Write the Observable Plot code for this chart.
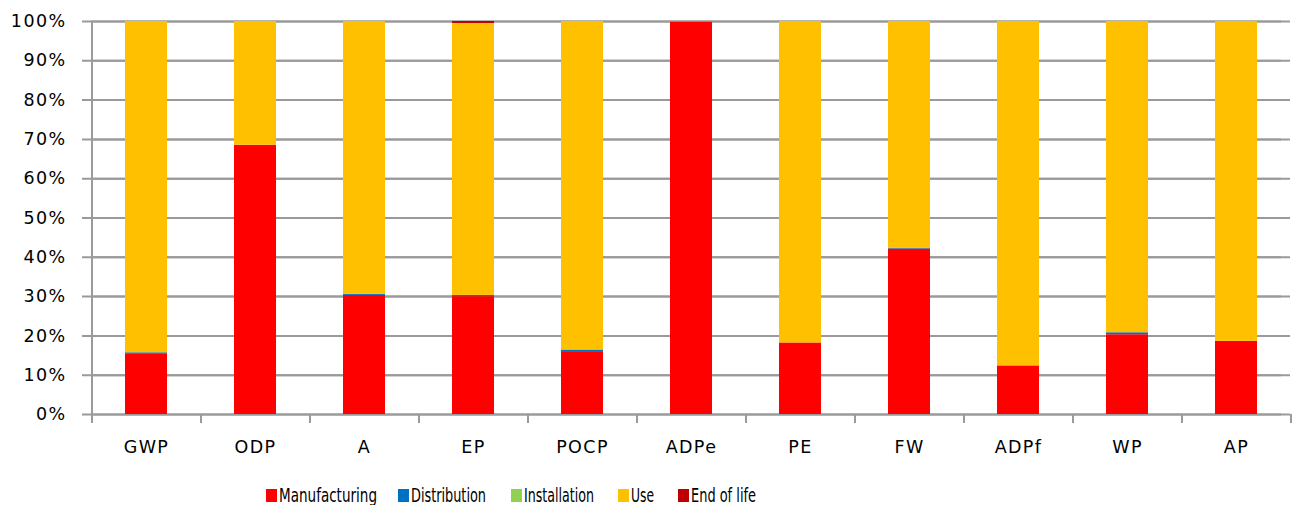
<!DOCTYPE html>
<html>
<head>
<meta charset="utf-8">
<script src="https://cdn.jsdelivr.net/npm/d3@7"></script>
<script src="https://cdn.jsdelivr.net/npm/@observablehq/plot@0.6"></script>
<style>
  html, body { margin: 0; padding: 0; background: #fff; }
  #wrap { position: relative; width: 1296px; height: 505px; overflow: hidden; }
  #chart svg text { letter-spacing: 1.4px; }
  .leg { position: absolute; top: 484px; font-family: "DejaVu Sans", sans-serif; font-stretch: condensed; font-size: 20px; line-height: 22px; color: #000; white-space: nowrap; }
  .sw { position: absolute; top: 5px; left: 0; width: 11px; height: 13px; }
  .tx { position: absolute; left: 13px; top: 0; display: inline-block; transform-origin: 0 50%; }
</style>
</head>
<body>
<div id="wrap">
  <div id="chart"></div>
  <div id="legend"></div>
</div>
<script>
const categories = ["GWP", "ODP", "A", "EP", "POCP", "ADPe", "PE", "FW", "ADPf", "WP", "AP"];
const seriesNames = ["Manufacturing", "Distribution", "Installation", "Use", "End of life"];
const seriesColors = ["#FF0000", "#0070C0", "#92D050", "#FFC000", "#C00000"];
// percentages
const manufacturing = [15.3, 68.5, 30.3, 30.0, 16.0, 99.9, 18.2, 42.1, 12.3, 20.3, 18.6];
const distribution  = [0.4, 0.0, 0.3, 0.3, 0.4, 0.0, 0.0, 0.2, 0.1, 0.5, 0.0];
const installation  = [0.0, 0.0, 0.0, 0.0, 0.0, 0.0, 0.0, 0.0, 0.0, 0.0, 0.0];
const use           = [84.3, 31.5, 69.4, 69.2, 83.6, 0.1, 81.8, 57.7, 87.6, 79.2, 81.4];
const endOfLife     = [0.0, 0.0, 0.0, 0.5, 0.0, 0.0, 0.0, 0.0, 0.0, 0.0, 0.0];
const yTicks = [0, 0.1, 0.2, 0.3, 0.4, 0.5, 0.6, 0.7, 0.8, 0.9, 1.0];
const legendX = [266, 398, 511, 618, 678];
const legendTextWidth = [98, 75, 70, 23, 65];

const seriesValues = [manufacturing, distribution, installation, use, endOfLife];
const rows = [];
seriesNames.forEach((s, si) => {
  categories.forEach((c, ci) => {
    rows.push({cat: c, series: s, value: seriesValues[si][ci] / 100});
  });
});

const W = 1296, H = 475;
const mL = 91, mR = 6, mT = 21, mB = 61;
const step = (W - mL - mR) / categories.length;
const gridColor = "#9a9a9a";

const chart = Plot.plot({
  width: W,
  height: H,
  marginLeft: mL,
  marginRight: mR,
  marginTop: mT,
  marginBottom: mB,
  style: {fontFamily: "'DejaVu Sans', Verdana, sans-serif", background: "#fff", color: "#000"},
  x: {domain: categories, paddingInner: 0.615, paddingOuter: 0.3075, axis: null},
  y: {domain: [0, 1], axis: null},
  color: {domain: seriesNames, range: seriesColors},
  marks: [
    Plot.ruleY(yTicks, {y: d => d, stroke: gridColor, strokeWidth: 2}),
    Plot.ruleY(yTicks, {y: d => d, stroke: gridColor, strokeWidth: 2, dx: -9}),
    Plot.barY(rows, Plot.stackY({x: "cat", y: "value", fill: "series", order: seriesNames})),
    Plot.ruleX(categories, {x: d => d, dx: -step / 2, y1: -0.023, y2: 0, stroke: gridColor, strokeWidth: 2}),
    Plot.ruleX([categories[categories.length - 1]], {x: d => d, dx: step / 2, y1: -0.023, y2: 0, stroke: gridColor, strokeWidth: 2}),
    Plot.ruleX([categories[0]], {x: d => d, dx: -step / 2, y1: -0.023, y2: 1, stroke: gridColor, strokeWidth: 2}),
    Plot.text(yTicks, {y: d => d, frameAnchor: "left", dx: -25, textAnchor: "end", text: d3.format(".0%"), fontSize: 17.5, fill: "#000"}),
    Plot.text(categories, {x: d => d, y: 0, dy: 33, text: d => d, fontSize: 17.5, fill: "#000"})
  ]
});
document.getElementById("chart").appendChild(chart);

const legend = document.getElementById("legend");
seriesNames.forEach((s, i) => {
  const item = document.createElement("div");
  item.className = "leg";
  item.style.left = legendX[i] + "px";
  const sw = document.createElement("span");
  sw.className = "sw";
  sw.style.background = seriesColors[i];
  const tx = document.createElement("span");
  tx.className = "tx";
  tx.textContent = s;
  item.appendChild(sw);
  item.appendChild(tx);
  legend.appendChild(item);
  const w = tx.getBoundingClientRect().width;
  if (w > 0) tx.style.transform = "scaleX(" + (legendTextWidth[i] / w) + ")";
});
</script>
</body>
</html>
